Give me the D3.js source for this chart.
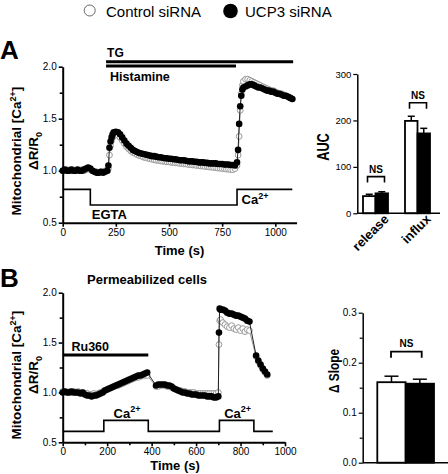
<!DOCTYPE html>
<html><head><meta charset="utf-8">
<script src="https://cdn.jsdelivr.net/npm/d3@7"></script>
<style>body{margin:0;background:#fff}svg{display:block;font-family:Arial,"Liberation Sans",Helvetica,sans-serif}</style>
</head><body><svg id="c" width="448" height="474"></svg>
<script>
// ---------- DATA ----------
const seriesNames = ["Control siRNA", "UCP3 siRNA"];

// Panel A time course
const timeA = [0,10,20,30,40,50,60,70,80,90,100,110,120,130,140,150,160,170,180,190,200,210,
  215,220,225,230,235,240,
  250,260,270,280,290,300,310,320,330,340,350,360,370,380,390,400,410,420,430,440,450,460,470,480,490,500,
  510,520,530,540,550,560,570,580,590,600,610,620,630,640,650,660,670,680,690,700,710,720,730,740,750,760,770,780,790,800,810,
  820,825,830,835,840,845,850,
  860,870,880,890,900,910,920,930,940,950,960,970,980,990,1000,1010,1020,1030,1040,1050,1060,1070,1080];
const ucpA = [1.00,1.01,1.00,1.00,1.01,1.00,1.00,1.01,1.00,1.00,1.01,1.02,1.03,1.02,1.00,0.99,0.98,0.98,0.99,0.98,0.99,1.00,
  1.05,1.22,1.28,1.32,1.35,1.37,
  1.375,1.37,1.35,1.32,1.29,1.26,1.24,1.22,1.20,1.19,1.18,1.17,1.165,1.16,1.155,1.15,1.145,1.14,1.14,1.135,1.13,1.13,1.125,1.12,1.12,1.115,
  1.115,1.11,1.11,1.105,1.10,1.10,1.10,1.095,1.09,1.09,1.09,1.085,1.085,1.08,1.08,1.08,1.075,1.075,1.07,1.07,1.07,1.07,1.065,1.065,1.065,1.06,1.06,1.06,1.055,1.055,1.05,
  1.08,1.20,1.45,1.62,1.72,1.78,1.80,
  1.81,1.82,1.83,1.83,1.82,1.81,1.80,1.80,1.79,1.78,1.77,1.77,1.76,1.76,1.75,1.74,1.74,1.73,1.72,1.72,1.71,1.70,1.69];
const ctrlA = [1.00,1.00,1.01,1.00,1.00,1.01,1.00,1.00,1.00,1.01,1.00,1.01,1.02,1.01,1.00,0.99,0.99,0.98,0.99,0.99,1.00,1.00,
  1.02,1.15,1.24,1.29,1.32,1.34,
  1.345,1.34,1.32,1.29,1.26,1.23,1.21,1.19,1.175,1.165,1.155,1.145,1.14,1.13,1.125,1.12,1.115,1.11,1.105,1.10,1.10,1.095,1.09,1.09,1.085,1.085,
  1.08,1.08,1.075,1.075,1.07,1.07,1.065,1.065,1.06,1.06,1.055,1.055,1.05,1.05,1.045,1.045,1.04,1.04,1.035,1.035,1.03,1.03,1.025,1.025,1.02,1.02,1.015,1.015,1.01,1.01,1.02,
  1.05,1.15,1.33,1.58,1.74,1.82,1.86,
  1.88,1.88,1.87,1.86,1.85,1.84,1.83,1.82,1.81,1.80,1.79,1.78,1.77,1.77,1.76,1.75,1.74,1.74,1.73,1.72,1.71,1.70,1.69];
const stimATime = [0,130,820,1080];
const stimALevel = [0.82,0.67,0.82,0.82];
const stimALabels = ["EGTA","Ca"];
const drugA = [{name:"TG", start:204, end:1084, level:2.048},{name:"Histamine", start:204, end:815, level:2.007}];
const xTicksA = [0,250,500,750,1000];
const yTicks = [0.5,1.0,1.5,2.0];
const yMinor = [0.75,1.25,1.75];

// Panel B time course (permeabilized cells)
const timeB = [0,10,20,30,40,50,60,70,80,90,100,110,120,130,140,150,160,170,180,190,200,210,220,230,240,250,260,270,280,290,300,310,320,330,340,350,360,370,380,
  420,430,440,450,460,470,480,490,500,510,520,530,540,550,560,570,580,590,600,610,620,630,640,650,660,670,680,690,700,
  703,706,
  710,720,730,740,750,760,770,780,790,800,810,820,830,840,
  870,880,890,900,910,920];
const ucpB = [1.00,1.01,1.00,1.00,1.01,1.00,1.00,1.00,0.99,1.00,0.98,0.97,0.97,0.96,0.97,0.97,0.98,0.99,1.00,1.02,1.03,1.04,1.05,1.06,1.07,1.08,1.09,1.10,1.11,1.12,1.13,1.14,1.15,1.16,1.17,1.17,1.18,1.19,1.20,
  1.07,1.08,1.08,1.08,1.08,1.07,1.07,1.06,1.04,1.03,1.02,1.01,1.00,1.00,0.99,0.99,0.98,0.98,0.98,0.97,0.97,0.97,0.97,0.96,0.96,0.96,0.95,0.95,0.96,
  1.60,1.84,
  1.83,1.83,1.82,1.80,1.79,1.79,1.78,1.77,1.77,1.76,1.75,1.74,1.72,1.71,
  1.37,1.32,1.28,1.24,1.21,1.18];
const ctrlB = [1.01,1.01,1.00,1.01,1.00,1.01,1.00,1.01,1.00,1.00,0.99,0.99,0.98,0.98,0.99,0.98,0.99,1.00,1.01,1.02,1.03,1.04,1.05,1.06,1.07,1.07,1.08,1.09,1.10,1.11,1.12,1.13,1.14,1.15,1.15,1.16,1.17,1.17,1.17,
  1.06,1.06,1.07,1.07,1.07,1.06,1.06,1.05,1.04,1.03,1.02,1.02,1.01,1.01,1.00,1.00,1.00,1.00,0.99,0.99,0.99,0.99,0.99,0.99,0.99,0.99,0.99,0.99,1.00,
  1.48,1.72,
  1.73,1.70,1.68,1.66,1.65,1.67,1.64,1.63,1.65,1.62,1.64,1.61,1.63,1.62,
  1.36,1.31,1.27,1.23,1.20,1.17];
const stimBTime = [0,185,385,705,860,945];
const stimBLevel = [0.61,0.72,0.61,0.72,0.61,0.61];
const drugB = [{name:"Ru360", start:0, end:385, level:1.375}];
const xTicksB = [0,200,400,600,800,1000];
const xMinorB = [100,300,500,700,900];

// Bar chart A (AUC)
const aucCats = ["release","influx"];
const aucCtrl = [37,199], aucCtrlErr = [4,10];
const aucUcp = [43,172], aucUcpErr = [3.5,11];
const aucTicks = [0,100,200,300];
const aucNS = [79,238];

// Bar chart B (Δ Slope)
const slopeCtrl = 0.161, slopeCtrlErr = 0.012;
const slopeUcp = 0.158, slopeUcpErr = 0.009;
const slopeTicks = [0.0,0.1,0.2,0.3];
const slopeMinor = [0.05,0.15,0.25];
const slopeNS = 0.222;

// ---------- DRAW ----------
const svg = d3.select("#c");
const FONT = "Arial, 'Liberation Sans', sans-serif";

function styleAxis(g, w){
  g.selectAll("path.domain").attr("stroke","#000").attr("stroke-width",w);
  g.selectAll(".tick line").attr("stroke","#000").attr("stroke-width",w*0.8);
  g.selectAll(".tick text").attr("font-size",10).attr("font-family",FONT).attr("fill","#000");
}
function supText(sel, base, sup, size){
  sel.append("tspan").text(base);
  sel.append("tspan").attr("font-size",size*0.7).attr("dy",-size*0.4).text(sup);
}

// Legend
const leg = svg.append("g");
leg.append("circle").attr("cx",89.7).attr("cy",10.5).attr("r",5.5).attr("fill","#fff").attr("stroke","#666").attr("stroke-width",1);
leg.append("text").attr("x",106).attr("y",16.5).attr("font-size",15).text(seriesNames[0]);
leg.append("circle").attr("cx",230.5).attr("cy",11).attr("r",7.3).attr("fill","#000");
leg.append("text").attr("x",245).attr("y",16.5).attr("font-size",15).text(seriesNames[1]);

// Panel labels
svg.append("text").attr("x",0).attr("y",58.5).attr("font-size",26).attr("font-weight","bold").text("A");
svg.append("text").attr("x",0).attr("y",287).attr("font-size",26).attr("font-weight","bold").text("B");

function yLabel(xc, yc){
  const g = svg.append("g").attr("transform",`translate(${xc},${yc}) rotate(-90)`);
  const t1 = g.append("text").attr("text-anchor","middle").attr("font-size",13.5).attr("font-weight","bold").attr("y",0);
  t1.append("tspan").text("Mitochondrial [Ca");
  t1.append("tspan").attr("font-size",9).attr("dy",-5).text("2+");
  t1.append("tspan").attr("dy",5).text("]");
  const t2 = g.append("text").attr("text-anchor","middle").attr("font-size",13.5).attr("font-weight","bold").attr("y",16.5);
  t2.append("tspan").text("ΔR/R");
  t2.append("tspan").attr("font-size",9).attr("dy",4).text("0");
}

function tracePanel(opts){
  const {x, y, time, ctrl, ucp, stimT, stimL, xTicks, xMinor, g} = opts;
  const stim = stimT.map((t,i)=>[t,stimL[i]]);
  g.append("path").datum(stim)
    .attr("d", d3.line().x(d=>x(d[0])).y(d=>y(d[1])).curve(d3.curveStepAfter))
    .attr("fill","none").attr("stroke","#000").attr("stroke-width",1.6);
  const cd = time.map((t,i)=>[t,ctrl[i]]);
  const ud = time.map((t,i)=>[t,ucp[i]]);
  const line = d3.line().x(d=>x(d[0])).y(d=>y(d[1]));
  g.append("path").datum(cd).attr("d",line).attr("fill","none").attr("stroke","#999").attr("stroke-width",1);
  g.selectAll(null).data(cd).enter().append("circle")
    .attr("cx",d=>x(d[0])).attr("cy",d=>y(d[1])).attr("r",2.9)
    .attr("fill","#fff").attr("stroke","#999").attr("stroke-width",1);
  g.append("path").datum(ud).attr("d",line).attr("fill","none").attr("stroke","#222").attr("stroke-width",1);
  g.selectAll(null).data(ud).enter().append("circle")
    .attr("cx",d=>x(d[0])).attr("cy",d=>y(d[1])).attr("r",3.3).attr("fill","#000");
  const ya = g.append("g").attr("transform",`translate(${x.range()[0]},0)`)
    .call(d3.axisLeft(y).tickValues(yTicks).tickFormat(d3.format(".1f")).tickSize(4).tickSizeOuter(0).tickPadding(2));
  styleAxis(ya,2);
  const ym = g.append("g").attr("transform",`translate(${x.range()[0]},0)`)
    .call(d3.axisLeft(y).tickValues(yMinor).tickFormat("").tickSize(3).tickSizeOuter(0));
  styleAxis(ym,2); ym.select("path.domain").remove();
  const xa = g.append("g").attr("transform",`translate(0,${y.range()[0]})`)
    .call(d3.axisBottom(x).tickValues(xTicks).tickFormat(d3.format("d")).tickSize(4).tickSizeOuter(0).tickPadding(2));
  styleAxis(xa,2);
  if (xMinor){
    const xm = g.append("g").attr("transform",`translate(0,${y.range()[0]})`)
      .call(d3.axisBottom(x).tickValues(xMinor).tickFormat("").tickSize(3).tickSizeOuter(0));
    styleAxis(xm,2); xm.select("path.domain").remove();
  }
}

// ----- Panel A -----
const xA = d3.scaleLinear().domain([0,1100]).range([62.7, 62.7+1100*0.2126]);
const yA = d3.scaleLinear().domain([0.5,2.0]).range([222.7,66.7]);
const gA = svg.append("g");
tracePanel({x:xA, y:yA, time:timeA, ctrl:ctrlA, ucp:ucpA, stimT:stimATime, stimL:stimALevel, xTicks:xTicksA, g:gA});
drugA.forEach(d=>{
  gA.append("line").attr("x1",xA(d.start)).attr("x2",xA(d.end)).attr("y1",yA(d.level)).attr("y2",yA(d.level))
    .attr("stroke","#000").attr("stroke-width",3);
});
gA.append("text").attr("x",xA(drugA[0].start)+1).attr("y",56.5).attr("font-size",12).attr("font-weight","bold").text(drugA[0].name);
gA.append("text").attr("x",xA(drugA[1].start)+4).attr("y",81).attr("font-size",12.5).attr("font-weight","bold").text(drugA[1].name);
gA.append("text").attr("x",xA(130)+1.5).attr("y",219).attr("font-size",13).attr("font-weight","bold").text(stimALabels[0]);
supText(gA.append("text").attr("x",xA(820)+4.5).attr("y",204).attr("font-size",13).attr("font-weight","bold"), "Ca","2+",13);
gA.append("text").attr("x",179.5).attr("y",254.5).attr("text-anchor","middle").attr("font-size",13).attr("font-weight","bold").text("Time (s)");
yLabel(21,151);

// ----- Panel B -----
const xB = d3.scaleLinear().domain([0,1000]).range([62.7,285]);
const yB = d3.scaleLinear().domain([0.5,2.0]).range([442.3,292.7]);
const gB = svg.append("g");
tracePanel({x:xB, y:yB, time:timeB, ctrl:ctrlB, ucp:ucpB, stimT:stimBTime, stimL:stimBLevel, xTicks:xTicksB, xMinor:xMinorB, g:gB});
drugB.forEach(d=>{
  gB.append("line").attr("x1",xB(d.start)).attr("x2",xB(d.end)).attr("y1",yB(d.level)).attr("y2",yB(d.level))
    .attr("stroke","#000").attr("stroke-width",3);
});
gB.append("text").attr("x",71.5).attr("y",351).attr("font-size",12.5).attr("font-weight","bold").text(drugB[0].name);
[[185,385],[705,860]].forEach(p=>{
  supText(gB.append("text").attr("x",(xB(p[0])+xB(p[1]))/2+1).attr("y",417.5).attr("text-anchor","middle").attr("font-size",13).attr("font-weight","bold"),"Ca","2+",13);
});
gB.append("text").attr("x",147).attr("y",284).attr("text-anchor","middle").attr("font-size",13).attr("font-weight","bold").text("Permeabilized cells");
gB.append("text").attr("x",175).attr("y",470).attr("text-anchor","middle").attr("font-size",13).attr("font-weight","bold").text("Time (s)");
yLabel(21,375);

// ----- Bar chart A -----
const xbA = d3.scalePoint().domain(aucCats).range([354.5,438.5]).padding(0.5);
const ybA = d3.scaleLinear().domain([0,300]).range([213.3,74]);
const bw = 12.5;
const gbA = svg.append("g");
aucCats.forEach((c,i)=>{
  const cx = xbA(c);
  [[cx-bw, aucCtrl[i], aucCtrlErr[i]],[cx, aucUcp[i], aucUcpErr[i]]].forEach(b=>{
    const m = b[0]+bw/2;
    gbA.append("line").attr("x1",m).attr("x2",m).attr("y1",ybA(b[1])).attr("y2",ybA(b[1]+b[2])).attr("stroke","#000").attr("stroke-width",1.5);
    gbA.append("line").attr("x1",m-3.5).attr("x2",m+3.5).attr("y1",ybA(b[1]+b[2])).attr("y2",ybA(b[1]+b[2])).attr("stroke","#000").attr("stroke-width",1.5);
  });
  gbA.append("rect").attr("x",cx-bw).attr("y",ybA(aucCtrl[i])).attr("width",bw).attr("height",ybA(0)-ybA(aucCtrl[i]))
    .attr("fill","#fff").attr("stroke","#000").attr("stroke-width",1.8);
  gbA.append("rect").attr("x",cx).attr("y",ybA(aucUcp[i])).attr("width",bw).attr("height",ybA(0)-ybA(aucUcp[i]))
    .attr("fill","#000").attr("stroke","#000").attr("stroke-width",1.8);
  const by = ybA(aucNS[i]);
  gbA.append("path").attr("d",`M${cx-8},${by+6}V${by}H${cx+9}V${by+6}`).attr("fill","none").attr("stroke","#000").attr("stroke-width",1.6);
  gbA.append("text").attr("x",cx+0.5).attr("y",by-4).attr("text-anchor","middle").attr("font-size",10).attr("font-weight","bold").text("NS");
  gbA.append("text").attr("transform",`translate(${cx+14},${220}) rotate(-45)`).attr("text-anchor","end")
    .attr("font-size",13).attr("font-weight","bold").text(c);
});
const yaA = gbA.append("g").attr("transform","translate(357.3,0)")
  .call(d3.axisLeft(ybA).tickValues(aucTicks).tickSize(4).tickSizeOuter(0).tickPadding(2));
styleAxis(yaA,1.5);
yaA.selectAll(".tick text").attr("font-size",9.5);
gbA.append("line").attr("x1",357.3).attr("x2",440).attr("y1",ybA(0)).attr("y2",ybA(0)).attr("stroke","#000").attr("stroke-width",1.5);
gbA.append("text").attr("transform","translate(329,147) rotate(-90) scale(0.8,1)").attr("text-anchor","middle")
  .attr("font-size",16).attr("font-weight","bold").text("AUC");

// ----- Bar chart B -----
const xbB = d3.scaleBand().domain(seriesNames).range([377.3,434]);
const ybB = d3.scaleLinear().domain([0,0.3]).range([462.7,312.7]);
const gbB = svg.append("g");
[[slopeCtrl,slopeCtrlErr,"#fff"],[slopeUcp,slopeUcpErr,"#000"]].forEach((b,i)=>{
  const x0 = xbB(seriesNames[i]), w = xbB.bandwidth(), m = x0+w/2;
  gbB.append("line").attr("x1",m).attr("x2",m).attr("y1",ybB(b[0])).attr("y2",ybB(b[0]+b[1])).attr("stroke","#000").attr("stroke-width",1.5);
  gbB.append("line").attr("x1",m-7).attr("x2",m+7).attr("y1",ybB(b[0]+b[1])).attr("y2",ybB(b[0]+b[1])).attr("stroke","#000").attr("stroke-width",1.5);
  gbB.append("rect").attr("x",x0).attr("y",ybB(b[0])).attr("width",w).attr("height",ybB(0)-ybB(b[0]))
    .attr("fill",b[2]).attr("stroke","#000").attr("stroke-width",1.8);
});
{
  const by = ybB(slopeNS);
  gbB.append("path").attr("d",`M391,${by+6}V${by}H421.7V${by+6}`).attr("fill","none").attr("stroke","#000").attr("stroke-width",1.8);
  gbB.append("text").attr("x",406.5).attr("y",by-4.5).attr("text-anchor","middle").attr("font-size",10).attr("font-weight","bold").text("NS");
}
const yaB = gbB.append("g").attr("transform","translate(362.7,0)")
  .call(d3.axisLeft(ybB).tickValues(slopeTicks).tickFormat(d3.format(".1f")).tickSize(4).tickSizeOuter(0).tickPadding(2));
styleAxis(yaB,1.5);
yaB.selectAll(".tick text").attr("font-size",10);
const ymB = gbB.append("g").attr("transform","translate(362.7,0)")
  .call(d3.axisLeft(ybB).tickValues(slopeMinor).tickFormat("").tickSize(3).tickSizeOuter(0));
styleAxis(ymB,1.5); ymB.select("path.domain").remove();
gbB.append("line").attr("x1",362.7).attr("x2",448).attr("y1",ybB(0)).attr("y2",ybB(0)).attr("stroke","#000").attr("stroke-width",1.5);
gbB.append("text").attr("transform","translate(338.5,371) rotate(-90) scale(0.85,1)").attr("text-anchor","middle")
  .attr("font-size",14).attr("font-weight","bold").text("Δ Slope");
</script></body></html>
